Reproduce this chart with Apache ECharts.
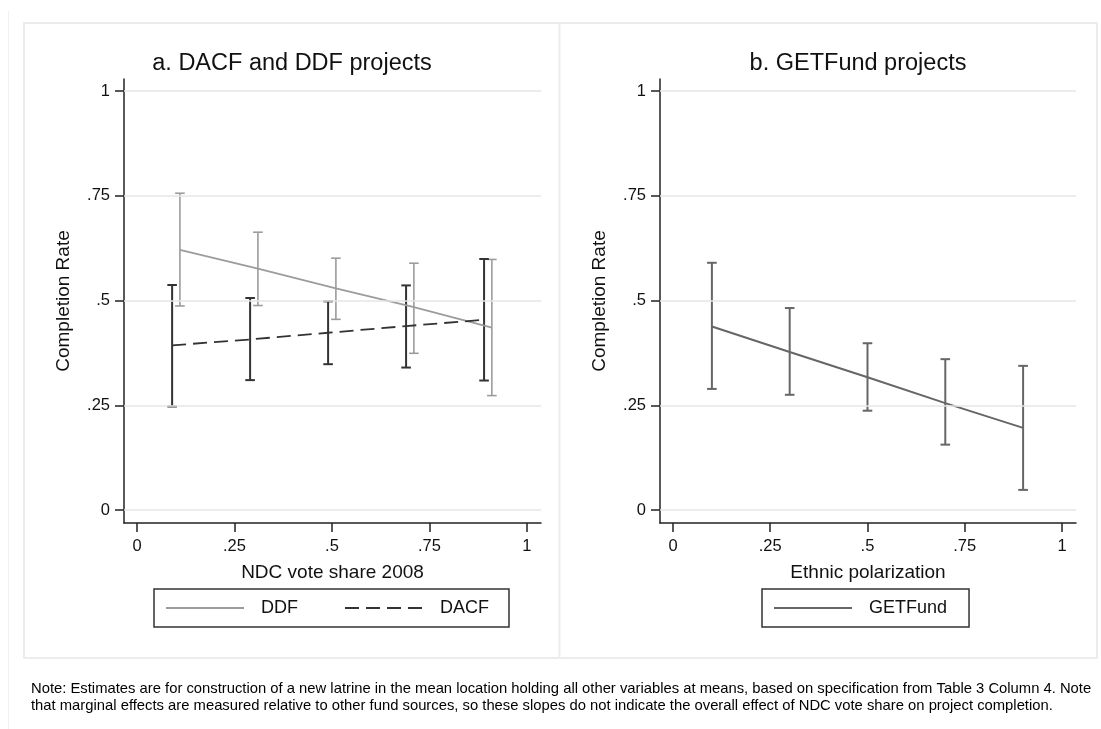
<!DOCTYPE html>
<html>
<head>
<meta charset="utf-8">
<script src="https://cdn.jsdelivr.net/npm/echarts@6/dist/echarts.min.js"></script>
<style>
  html, body { margin: 0; padding: 0; background: #ffffff; }
  #chart { width: 1101px; height: 729px; }
</style>
</head>
<body>
<div id="chart"></div>
<script>
// Axis ticks and their printed labels
const xTicks = [0, 0.25, 0.5, 0.75, 1];
const xTickLabels = ['0', '.25', '.5', '.75', '1'];
const yTicks = [0, 0.25, 0.5, 0.75, 1];
const yTickLabels = ['0', '.25', '.5', '.75', '1'];

// Panel a: DDF projects (x = NDC vote share 2008)
const ddfX = [0.11, 0.31, 0.51, 0.71, 0.91];
const ddfEst = [0.621, 0.576, 0.529, 0.484, 0.435];
const ddfLo = [0.487, 0.488, 0.455, 0.374, 0.273];
const ddfHi = [0.756, 0.663, 0.601, 0.589, 0.598];

// Panel a: DACF projects
const dacfX = [0.09, 0.29, 0.49, 0.69, 0.89];
const dacfEst = [0.393, 0.407, 0.423, 0.439, 0.454];
const dacfLo = [0.247, 0.310, 0.348, 0.340, 0.309];
const dacfHi = [0.537, 0.506, 0.498, 0.536, 0.599];

// Panel b: GETFund projects (x = Ethnic polarization)
const getX = [0.1, 0.3, 0.5, 0.7, 0.9];
const getEst = [0.438, 0.377, 0.317, 0.255, 0.196];
const getLo = [0.289, 0.275, 0.237, 0.156, 0.048];
const getHi = [0.590, 0.482, 0.398, 0.360, 0.344];

const titles = ['a. DACF and DDF projects', 'b. GETFund projects'];
const xNames = ['NDC vote share 2008', 'Ethnic polarization'];
const yName = 'Completion Rate';
const noteLines = [
  'Note: Estimates are for construction of a new latrine in the mean location holding all other variables at means, based on specification from Table 3 Column 4. Note',
  'that marginal effects are measured relative to other fund sources, so these slopes do not indicate the overall effect of NDC vote share on project completion.'
];

const FONT = '"Liberation Sans", Arial, Helvetica, sans-serif';
const INK = '#111111';
const AXIS = '#222222';
const COL_DDF = '#9c9c9c';
const COL_DACF = '#333333';
const COL_GET = '#666666';

function pickLabel(ticks, labels) {
  return function (v) {
    let best = 0;
    for (let i = 1; i < ticks.length; i++) {
      if (Math.abs(ticks[i] - v) < Math.abs(ticks[best] - v)) best = i;
    }
    return labels[best];
  };
}

function pairs(xs, ys) { return xs.map((x, i) => [x, ys[i]]); }
function triples(xs, lo, hi) { return xs.map((x, i) => [x, lo[i], hi[i]]); }

function xAxisCfg(gridIndex, name) {
  return {
    type: 'value', gridIndex: gridIndex, min: -0.0334, max: 1.036,
    name: name, nameLocation: 'middle', nameGap: 40,
    nameTextStyle: { fontSize: 19, color: INK, fontFamily: FONT },
    axisLine: { show: true, onZero: false, lineStyle: { color: AXIS, width: 1.5 } },
    axisTick: { show: true, length: 9, customValues: xTicks, lineStyle: { color: AXIS, width: 1.5 } },
    axisLabel: { customValues: xTicks, formatter: pickLabel(xTicks, xTickLabels),
                 fontSize: 16.5, color: INK, fontFamily: FONT, margin: 15 },
    splitLine: { show: false }
  };
}

function yAxisCfg(gridIndex) {
  return {
    type: 'value', gridIndex: gridIndex, min: -0.031, max: 1.0286,
    name: yName, nameLocation: 'middle', nameGap: 51,
    nameTextStyle: { fontSize: 19, color: INK, fontFamily: FONT },
    axisLine: { show: true, onZero: false, lineStyle: { color: AXIS, width: 1.5 } },
    axisTick: { show: true, length: 9, customValues: yTicks, lineStyle: { color: AXIS, width: 1.5 } },
    axisLabel: { customValues: yTicks, formatter: pickLabel(yTicks, yTickLabels),
                 fontSize: 16.5, color: INK, fontFamily: FONT, margin: 14 },
    splitLine: { show: false }
  };
}

// Range caps: vertical whisker with short horizontal caps at both ends
function capRenderer(color, width) {
  return function (params, api) {
    const x = api.value(0);
    const pLo = api.coord([x, api.value(1)]);
    const pHi = api.coord([x, api.value(2)]);
    const half = 4.8;
    const style = { stroke: color, lineWidth: width, fill: null };
    return {
      type: 'group',
      children: [
        { type: 'line', shape: { x1: pLo[0], y1: pLo[1], x2: pHi[0], y2: pHi[1] }, style: style },
        { type: 'line', shape: { x1: pLo[0] - half, y1: pLo[1], x2: pLo[0] + half, y2: pLo[1] }, style: style },
        { type: 'line', shape: { x1: pHi[0] - half, y1: pHi[1], x2: pHi[0] + half, y2: pHi[1] }, style: style }
      ]
    };
  };
}

function gridLines(idx) {
  return {
    type: 'line', name: 'gridlines-' + idx, xAxisIndex: idx, yAxisIndex: idx, data: [],
    silent: true, z: 1,
    markLine: {
      silent: true, symbol: 'none', animation: false,
      label: { show: false },
      lineStyle: { color: '#e6e6e6', width: 1.6, type: 'solid' },
      emphasis: { disabled: true },
      data: yTicks.map(v => ({ yAxis: v }))
    }
  };
}

// Legend keys show the line only, no point marker
const legendBase = {
  orient: 'horizontal', top: 589, itemWidth: 78, itemHeight: 2,
  borderColor: '#333333', borderWidth: 1.5, borderRadius: 0, selectedMode: false,
  itemStyle: { opacity: 0 },
  textStyle: { fontSize: 18, color: INK, fontFamily: FONT, padding: [0, 0, 0, 12] }
};

const chart = echarts.init(document.getElementById('chart'), null, { renderer: 'canvas' });

chart.setOption({
  animation: false,
  backgroundColor: '#ffffff',
  textStyle: { fontFamily: FONT },
  title: [
    { text: titles[0], left: 292, top: 52, textAlign: 'center', padding: 0,
      textStyle: { fontSize: 23.5, fontWeight: 'normal', color: INK, fontFamily: FONT } },
    { text: titles[1], left: 858, top: 52, textAlign: 'center', padding: 0,
      textStyle: { fontSize: 23.5, fontWeight: 'normal', color: INK, fontFamily: FONT } }
  ],
  grid: [
    { left: 124, top: 79, width: 417, height: 444, containLabel: false },
    { left: 660, top: 79, width: 416, height: 444, containLabel: false }
  ],
  xAxis: [xAxisCfg(0, xNames[0]), xAxisCfg(1, xNames[1])],
  yAxis: [yAxisCfg(0), yAxisCfg(1)],
  legend: [
    Object.assign({}, legendBase, {
      data: ['DDF', { name: 'DACF', textStyle: { padding: [0, 0, 0, 12] } }],
      left: 154, itemGap: 46, padding: [10, 20, 10, 11]
    }),
    Object.assign({}, legendBase, {
      data: ['GETFund'], left: 762, padding: [10, 22, 10, 11]
    })
  ],
  series: [
    gridLines(0),
    gridLines(1),
    { type: 'custom', name: 'DDF CI', xAxisIndex: 0, yAxisIndex: 0, z: 3, silent: true,
      renderItem: capRenderer(COL_DDF, 1.6), encode: { x: 0, y: [1, 2] },
      data: triples(ddfX, ddfLo, ddfHi) },
    { type: 'custom', name: 'DACF CI', xAxisIndex: 0, yAxisIndex: 0, z: 3, silent: true,
      renderItem: capRenderer(COL_DACF, 2), encode: { x: 0, y: [1, 2] },
      data: triples(dacfX, dacfLo, dacfHi) },
    { type: 'line', name: 'DDF', xAxisIndex: 0, yAxisIndex: 0, z: 4, symbol: 'none', silent: true,
      lineStyle: { color: COL_DDF, width: 1.8 }, itemStyle: { color: COL_DDF },
      data: pairs(ddfX, ddfEst) },
    { type: 'line', name: 'DACF', xAxisIndex: 0, yAxisIndex: 0, z: 4, symbol: 'none', silent: true,
      lineStyle: { color: COL_DACF, width: 1.8, type: [14, 7] }, itemStyle: { color: COL_DACF },
      data: pairs(dacfX, dacfEst) },
    { type: 'custom', name: 'GETFund CI', xAxisIndex: 1, yAxisIndex: 1, z: 3, silent: true,
      renderItem: capRenderer(COL_GET, 2), encode: { x: 0, y: [1, 2] },
      data: triples(getX, getLo, getHi) },
    { type: 'line', name: 'GETFund', xAxisIndex: 1, yAxisIndex: 1, z: 4, symbol: 'none', silent: true,
      lineStyle: { color: COL_GET, width: 2 }, itemStyle: { color: COL_GET },
      data: pairs(getX, getEst) }
  ],
  graphic: [
    // outer page edge and the two panel frames
    { type: 'line', silent: true, z: 0, shape: { x1: 8.5, y1: 11, x2: 8.5, y2: 729 },
      style: { stroke: '#f1f1f1', lineWidth: 1 } },
    { type: 'rect', silent: true, z: 0, shape: { x: 24, y: 23, width: 1073, height: 635 },
      style: { fill: null, stroke: '#ececec', lineWidth: 2 } },
    { type: 'line', silent: true, z: 0, shape: { x1: 559.5, y1: 23, x2: 559.5, y2: 658 },
      style: { stroke: '#ececec', lineWidth: 2 } },
    { type: 'text', silent: true, left: 31, top: 681,
      style: { text: noteLines[0], fontSize: 14.8, fill: '#000000', fontFamily: FONT } },
    { type: 'text', silent: true, left: 31, top: 698,
      style: { text: noteLines[1], fontSize: 14.8, fill: '#000000', fontFamily: FONT } }
  ]
});
</script>
</body>
</html>
